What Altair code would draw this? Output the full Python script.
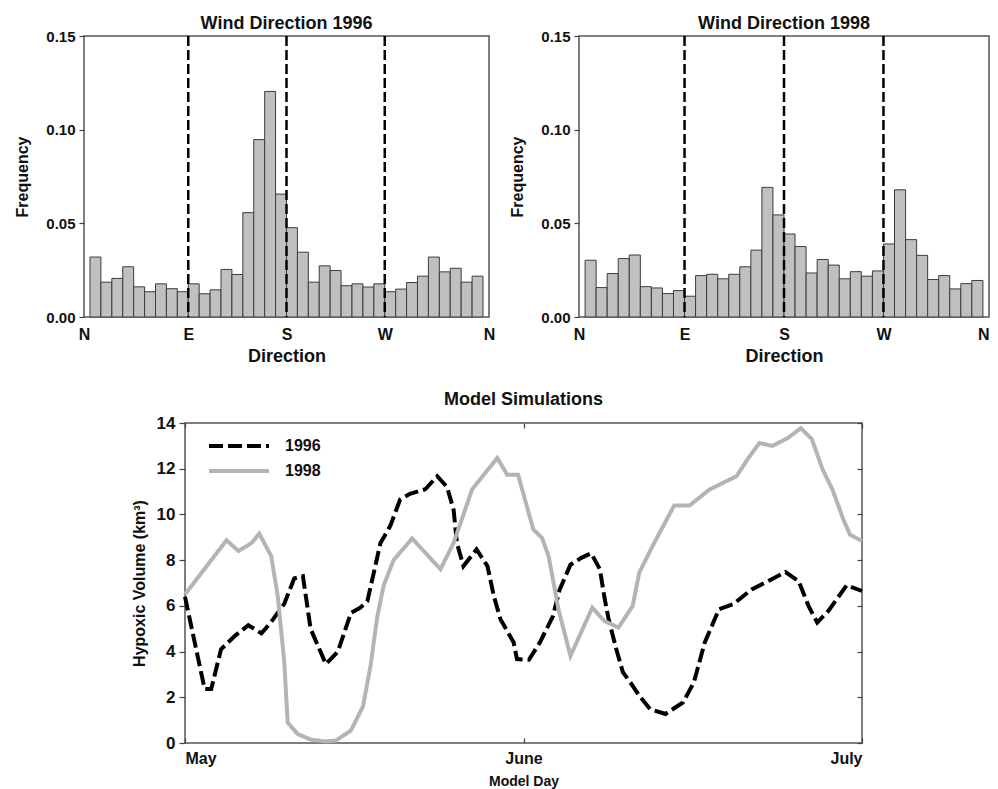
import altair as alt
import pandas as pd

# ---------------- data ----------------
direction_start = list(range(0, 360, 10))
freq_1996 = [0.032, 0.0186, 0.0206, 0.0268, 0.0161, 0.0135, 0.0177, 0.0151, 0.0135,
             0.0177, 0.0124, 0.0145, 0.0254, 0.0227, 0.0557, 0.0947, 0.1204, 0.0656,
             0.0477, 0.0346, 0.0186, 0.0273, 0.0248, 0.0167, 0.0177, 0.0160, 0.0177,
             0.0135, 0.0149, 0.0184, 0.0218, 0.0320, 0.0241, 0.0260, 0.0186, 0.0218]
freq_1998 = [0.0303, 0.0157, 0.0232, 0.0312, 0.0331, 0.0162, 0.0155, 0.0125, 0.0141,
             0.0111, 0.0221, 0.0228, 0.0204, 0.0228, 0.0268, 0.0357, 0.0692, 0.0545,
             0.0443, 0.0376, 0.0235, 0.0307, 0.0277, 0.0204, 0.0242, 0.0218, 0.0246,
             0.0390, 0.0679, 0.0413, 0.0329, 0.0200, 0.0221, 0.0150, 0.0178, 0.0195]
compass_ticks = [-5.5, 90, 180, 270, 365.5]
compass_labels = ["N", "E", "S", "W", "N"]
quadrant_lines = [90, 180, 270]

days_1996 = [0, 1.8, 2.4, 3.3, 4.6, 5.8, 7.0, 7.9, 9.1, 10.0, 10.8, 11.5, 12.9, 14.0,
             15.2, 16.0, 16.7, 17.9, 18.8, 19.7, 20.6, 22.0, 23.1, 24.0, 24.6, 24.9,
             25.5, 26.7, 27.7, 28.3, 28.9, 30.1, 30.4, 31.5, 32.5, 33.7, 34.3, 35.3,
             36.3, 37.2, 38.0, 38.4, 38.8, 39.5, 40.1, 41.0, 41.6, 42.6, 44.0, 45.6,
             46.6, 47.6, 48.9, 50.2, 51.9, 53.6, 55.0, 56.2, 57.1, 57.9, 58.9, 60.6, 62]
vol_1996 = [6.4, 2.36, 2.36, 4.1, 4.7, 5.15, 4.8, 5.3, 6.1, 7.2, 7.3, 5.0, 3.45, 4.0,
            5.7, 5.9, 6.2, 8.75, 9.5, 10.65, 10.9, 11.1, 11.67, 11.2, 10.2, 8.75,
            7.74, 8.47, 7.74, 6.4, 5.4, 4.4, 3.67, 3.64, 4.4, 5.55, 6.7, 7.8,
            8.1, 8.3, 7.6, 6.4, 5.4, 4.1, 3.1, 2.5, 2.07, 1.48, 1.27, 1.77,
            2.65, 4.4, 5.85, 6.07, 6.72, 7.13, 7.48, 7.08, 6.0, 5.27, 5.77, 6.9, 6.65]
days_1998 = [0, 3.8, 4.9, 6.1, 6.8, 7.9, 8.5, 9.1, 9.4, 10.3, 11.5, 12.8, 13.8, 15.2,
             16.3, 17.0, 17.6, 18.2, 19.1, 20.8, 23.4, 24.6, 26.3, 28.6, 29.5, 30.5,
             31.9, 32.7, 33.3, 34.2, 35.3, 37.3, 38.4, 39.7, 41.0, 41.6, 42.8, 44.8,
             46.2, 48.0, 50.5, 51.6, 52.6, 53.8, 55.2, 56.4, 57.4, 58.4, 59.3, 60.3,
             60.9, 62]
vol_1998 = [6.5, 8.87, 8.4, 8.75, 9.16, 8.17, 6.4, 3.5, 0.9, 0.4, 0.15, 0.07, 0.1, 0.55,
            1.6, 3.4, 5.5, 6.9, 8.0, 8.95, 7.6, 8.76, 11.1, 12.47, 11.74, 11.74,
            9.34, 8.97, 8.17, 5.85, 3.81, 5.92, 5.34, 5.05, 6.0, 7.45, 8.6, 10.39,
            10.39, 11.08, 11.67, 12.47, 13.12, 13.0, 13.34, 13.77, 13.3, 11.96, 11.08, 9.77,
            9.12, 8.83]
month_ticks = [0, 31, 62]
month_labels = ["May", "June", "July"]
volume_ticks = [0, 2, 4, 6, 8, 10, 12, 14]

FONT = "Liberation Sans"
INK = "#111111"


def label_expr(values, labels):
    return "[" + ",".join(f"'{l}'" for l in labels) + "][indexof([" + \
        ",".join(str(v) for v in values) + "], datum.value)]"


def histogram(freqs, year, width, flush_last=False):
    df = pd.DataFrame({"start": direction_start,
                       "end": [d + 10 for d in direction_start],
                       "freq": freqs})
    align = "center"
    if flush_last:
        align = {"condition": {"test": "datum.value > 360", "value": "right"}, "value": "center"}
    bars = alt.Chart(df).mark_bar(fill="#c0c0c0", stroke="#3c3c3c", strokeWidth=1).encode(
        x=alt.X("start:Q",
                scale=alt.Scale(domain=[compass_ticks[0], compass_ticks[-1]], nice=False, zero=False),
                axis=alt.Axis(values=compass_ticks, labelExpr=label_expr(compass_ticks, compass_labels),
                              ticks=False, labelPadding=9, labelFontSize=16, titleFontSize=18,
                              titlePadding=5, labelFlush=False, labelAlign=align),
                title="Direction"),
        x2="end:Q",
        y=alt.Y("freq:Q",
                scale=alt.Scale(domain=[0, 0.15], nice=False),
                axis=alt.Axis(values=[0, 0.05, 0.10, 0.15], format=".2f", tickSize=5,
                              labelPadding=4, labelFontSize=15, titleFontSize=16, titlePadding=15),
                title="Frequency"),
        y2=alt.datum(0),
    )
    rules = alt.Chart(pd.DataFrame({"deg": quadrant_lines})).mark_rule(
        color="#000000", strokeDash=[10, 4], strokeWidth=2.5).encode(x="deg:Q")
    return alt.layer(bars, rules).properties(
        width=width, height=281,
        title=alt.TitleParams(f"Wind Direction {year}", fontSize=18, offset=-4))


h1 = histogram(freq_1996, 1996, 405)
h2 = histogram(freq_1998, 1998, 410, flush_last=True)

lines_df = pd.DataFrame({
    "day": days_1996 + days_1998,
    "vol": vol_1996 + vol_1998,
    "year": ["1996"] * len(days_1996) + ["1998"] * len(days_1998),
})

legend = alt.Legend(title=None, orient="none", legendX=123, legendY=401,
                    symbolType="stroke", symbolSize=3600, symbolStrokeWidth=4,
                    clipHeight=18,
                    labelFontSize=16, labelFont=FONT, labelFontWeight="bold",
                    labelColor=INK, labelOffset=14, rowPadding=7, padding=0)

x_scale = alt.Scale(domain=[0, 62], nice=False)
y_scale = alt.Scale(domain=[0, 14], nice=False)

lines = alt.Chart(lines_df).mark_line(strokeWidth=4).encode(
    x=alt.X("day:Q", scale=x_scale,
            axis=alt.Axis(values=month_ticks, labelExpr=label_expr(month_ticks, month_labels),
                          tickSize=5, offset=-5, labelPadding=7, labelFontSize=16,
                          titleFontSize=14, titlePadding=8, labelFlush=True),
            title="Model Day"),
    y=alt.Y("vol:Q", scale=y_scale,
            axis=alt.Axis(values=volume_ticks, tickSize=6, labelPadding=4, labelFontSize=17,
                          titleFontSize=16, titlePadding=9),
            title="Hypoxic Volume (km³)"),
    color=alt.Color("year:N", scale=alt.Scale(domain=["1996", "1998"], range=["#000000", "#b4b4b4"]),
                    legend=legend),
    strokeDash=alt.StrokeDash("year:N", scale=alt.Scale(domain=["1996", "1998"], range=[[14, 5], [1, 0]]),
                              legend=legend),
)

mirror = alt.Chart(lines_df).mark_point(opacity=0).encode(
    x=alt.X("day:Q", scale=x_scale,
            axis=alt.Axis(orient="top", values=month_ticks, labels=False, tickSize=5, offset=-5,
                          title=None)),
    y=alt.Y("vol:Q", scale=y_scale,
            axis=alt.Axis(orient="right", values=volume_ticks, labels=False, tickSize=5, offset=-5,
                          title=None)),
)

line_chart = alt.layer(lines, mirror).resolve_axis(x="independent", y="independent").properties(
    width=677, height=320,
    title=alt.TitleParams("Model Simulations", fontSize=18, offset=5.5))

spacer = alt.Chart(pd.DataFrame({"s": [0]})).mark_point(opacity=0).properties(
    width=46, height=10, view=alt.ViewBackground(strokeOpacity=0))

top = alt.hconcat(h1, h2, spacing=13)
bottom = alt.hconcat(spacer, line_chart, spacing=0)
chart = alt.vconcat(top, bottom, spacing=23).properties(
    padding={"left": 6, "top": 6, "right": 0, "bottom": 0}
).configure_view(
    stroke="#555555", strokeWidth=1.5
).configure_axis(
    labelFont=FONT, titleFont=FONT, labelFontWeight="bold", titleFontWeight="bold",
    labelColor=INK, titleColor=INK, grid=False, domain=False, tickColor="#444444", tickWidth=1.2
).configure_title(
    font=FONT, fontWeight="bold", color=INK, anchor="middle"
)

chart.save("out.html", embed_options={"renderer": "svg", "actions": False})
